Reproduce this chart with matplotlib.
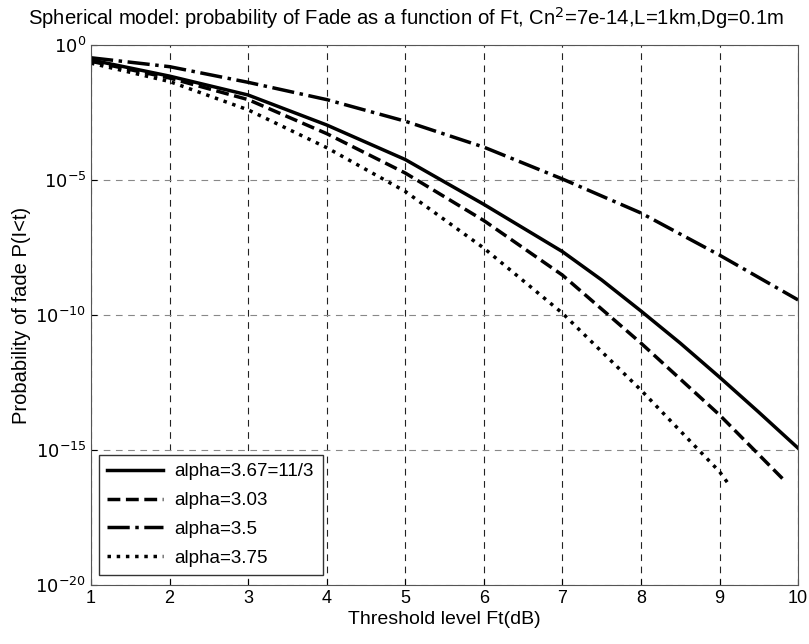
import matplotlib
matplotlib.use('Agg')
import matplotlib.pyplot as plt
import numpy as np

plt.rcParams['font.family'] = ['Liberation Sans', 'DejaVu Sans']

# log10 of fade probability
x_solid = [1, 2, 3, 4, 5, 6, 7, 7.5, 8, 8.5, 9, 9.5, 10]
logp_solid = [-0.55, -1.15, -1.85, -2.96, -4.24, -5.9, -7.65, -8.7, -9.85, -11.04, -12.3, -13.6, -14.93]

x_dashed = [1, 2, 3, 4, 5, 6, 7, 8, 9, 9.85]
logp_dashed = [-0.6, -1.22, -2.02, -3.28, -4.74, -6.5, -8.52, -11.04, -13.7, -16.2]

x_dashdot = [1, 2, 3, 4, 5, 6, 7, 8, 9, 10]
logp_dashdot = [-0.47, -0.8, -1.38, -2.02, -2.82, -3.78, -4.96, -6.22, -7.78, -9.44]

x_dotted = [1, 2, 3, 4, 5, 6, 7, 8, 9, 9.1]
logp_dotted = [-0.67, -1.35, -2.4, -3.8, -5.42, -7.52, -9.93, -12.78, -15.8, -16.2]

labels = ['alpha=3.67=11/3', 'alpha=3.03', 'alpha=3.5', 'alpha=3.75']
yticks = [1e-20, 1e-15, 1e-10, 1e-5, 1e0]
ytick_labels = ['$10^{-20}$', '$10^{-15}$', '$10^{-10}$', '$10^{-5}$', '$10^{0}$']

fig = plt.figure(figsize=(8.09, 6.44), dpi=100)
ax = fig.add_axes([0.1125, 0.0916, 0.874, 0.8384])

ax.semilogy(x_solid, 10 ** np.array(logp_solid), 'k-', lw=2.5, label=labels[0])
ax.semilogy(x_dashed, 10 ** np.array(logp_dashed), 'k--', lw=2.5, label=labels[1])
ax.semilogy(x_dashdot, 10 ** np.array(logp_dashdot), 'k-.', lw=2.5, label=labels[2])
ax.semilogy(x_dotted, 10 ** np.array(logp_dotted), 'k:', lw=2.5, label=labels[3])

ax.set_xlim(1, 10)
ax.set_ylim(1e-20, 1e0)
ax.set_xticks(range(1, 11))
ax.set_yticks(yticks)
ax.set_yticklabels(ytick_labels)
ax.minorticks_off()
ax.tick_params(direction='in', labelsize=13, length=4)
ax.xaxis.grid(True, linestyle=(0, (6, 5)), color='#222222', lw=0.8)
ax.yaxis.grid(True, linestyle=(0, (6, 5)), color='#888888', lw=0.8)
for s in ax.spines.values():
    s.set_color('#555555')

ax.set_xlabel('Threshold level Ft(dB)', fontsize=14, labelpad=3)
ax.set_ylabel('Probability of fade P(I<t)', fontsize=14.5, labelpad=3)
fig.text(406 / 809, 1 - 18 / 644,
         'Spherical model: probability of Fade as a function of Ft, Cn$^2$=7e-14,L=1km,Dg=0.1m',
         fontsize=14.6, ha='center', va='center')

leg = ax.legend(loc='lower left', bbox_to_anchor=(0.011, 0.0185), borderaxespad=0,
                fontsize=13.5, handlelength=3.0, fancybox=False, framealpha=1,
                edgecolor='#333333', labelspacing=0.62, borderpad=0.45, handletextpad=0.6)
leg.get_frame().set_linewidth(1.0)

fig.savefig('out.png', dpi=100)
